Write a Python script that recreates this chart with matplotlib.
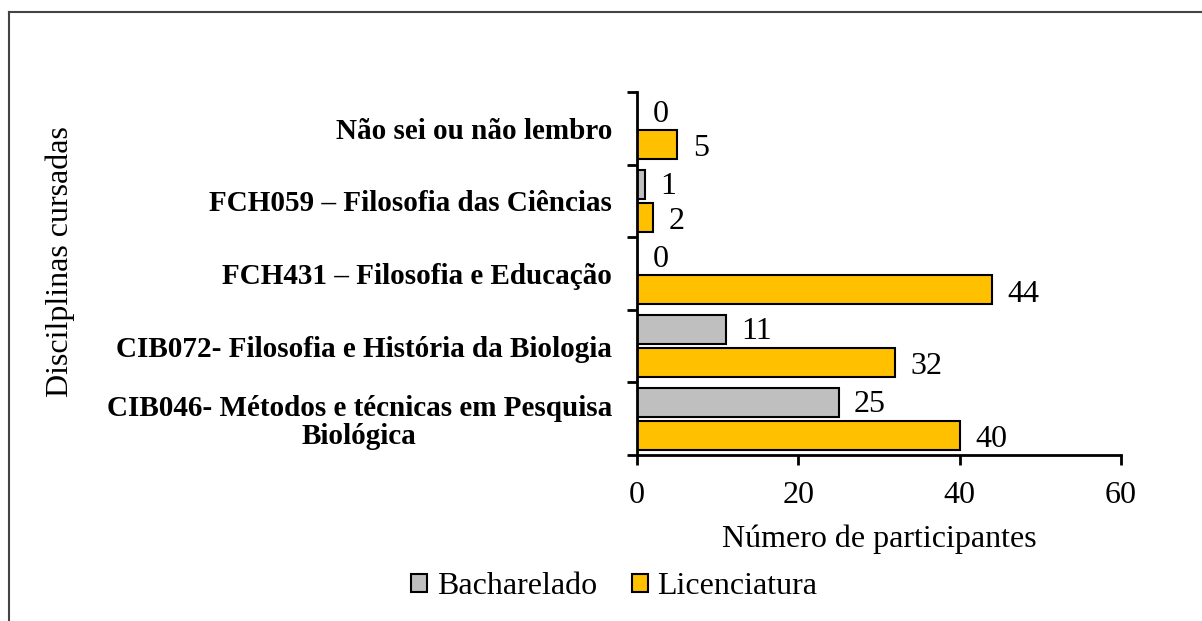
import numpy as np
import matplotlib
matplotlib.use('Agg')
import matplotlib.pyplot as plt
from matplotlib.lines import Line2D

plt.rcParams['font.family'] = ['Liberation Serif', 'DejaVu Serif']

categorias = ['CIB046- Métodos e técnicas em Pesquisa\nBiológica',
              'CIB072- Filosofia e História da Biologia',
              'FCH431 – Filosofia e Educação',
              'FCH059 – Filosofia das Ciências',
              'Não sei ou não lembro']
bacharelado = [25, 11, 0, 1, 0]
licenciatura = [40, 32, 44, 2, 5]

cor_bach = '#BFBFBF'
cor_lic = '#FFC000'

fig = plt.figure(figsize=(12.02, 6.21), dpi=100)
ax = fig.add_axes([0.530, 0.2673, 0.4027, 0.5845])

y = np.arange(len(categorias))
h = 0.40
off = 0.225
ax.barh(y + off, bacharelado, height=h, color=cor_bach, edgecolor='black', linewidth=1.5, label='Bacharelado')
ax.barh(y - off, licenciatura, height=h, color=cor_lic, edgecolor='black', linewidth=1.5, label='Licenciatura')

# rotulos de valor ao lado das barras
for i in range(len(categorias)):
    ax.annotate(str(bacharelado[i]), (bacharelado[i], y[i] + off), xytext=(11, -1.5),
                textcoords='offset points', va='center', ha='left', fontsize=23)
    ax.annotate(str(licenciatura[i]), (licenciatura[i], y[i] - off), xytext=(11, -3),
                textcoords='offset points', va='center', ha='left', fontsize=23)

ax.set_xlim(0, 60)
ax.set_ylim(-0.5, len(categorias) - 0.5)
ax.set_xticks([0, 20, 40, 60])
ax.set_yticks(np.arange(-0.5, len(categorias), 1.0))
ax.set_yticklabels([])
ax.set_yticks(y, minor=True)
ax.set_yticklabels(categorias, minor=True, fontweight='bold', fontsize=21,
                   multialignment='center', linespacing=1.05)
ax.tick_params(axis='y', which='minor', length=0, pad=18)
ax.tick_params(axis='y', which='major', direction='out', length=7, width=2)
ax.tick_params(axis='x', direction='out', length=7, width=2, labelsize=23, pad=12)

for s in ['top', 'right']:
    ax.spines[s].set_visible(False)
for s in ['left', 'bottom']:
    ax.spines[s].set_linewidth(2)

ax.set_xlabel('Número de participantes', fontsize=23, labelpad=10)
fig.text(0.05, 0.578, 'Discilplinas cursadas', rotation=90, fontsize=23, ha='center', va='center')

fig.legend(loc='center', bbox_to_anchor=(0.511, 0.055), ncol=2, frameon=False, fontsize=23,
           handlelength=0.5, handleheight=0.5, handletextpad=0.3, columnspacing=1.1)

# moldura
fig.add_artist(Line2D([0.0075, 0.0075], [0, 0.98], transform=fig.transFigure, color='#444444', lw=1.5))
fig.add_artist(Line2D([0.0075, 1], [0.98, 0.98], transform=fig.transFigure, color='#444444', lw=1.5))

fig.savefig('out.png', dpi=100)
